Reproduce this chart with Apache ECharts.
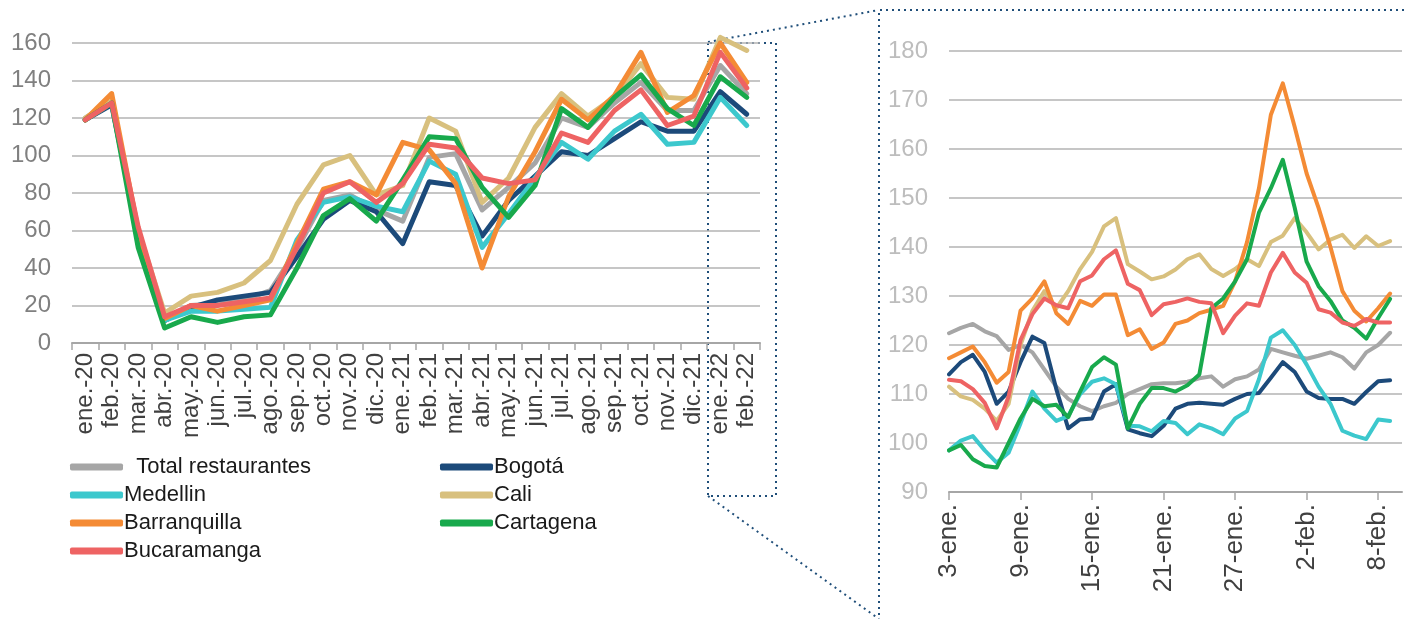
<!DOCTYPE html>
<html>
<head>
<meta charset="utf-8">
<script src="https://cdn.jsdelivr.net/npm/echarts@6/dist/echarts.min.js"></script>
<style>
  html, body { margin: 0; padding: 0; background: #fff; }
  #main { width: 1404px; height: 619px; }
</style>
</head>
<body>
<div id="main"></div>
<script>
// meses (panel izquierdo) y dias (panel derecho)
var meses = ['ene.-20','feb.-20','mar.-20','abr.-20','may.-20','jun.-20','jul.-20','ago.-20','sep.-20','oct.-20','nov.-20','dic.-20',
  'ene.-21','feb.-21','mar.-21','abr.-21','may.-21','jun.-21','jul.-21','ago.-21','sep.-21','oct.-21','nov.-21','dic.-21','ene.-22','feb.-22'];
var dias = ['3-ene.','4-ene.','5-ene.','6-ene.','7-ene.','8-ene.','9-ene.','10-ene.','11-ene.','12-ene.','13-ene.','14-ene.',
  '15-ene.','16-ene.','17-ene.','18-ene.','19-ene.','20-ene.','21-ene.','22-ene.','23-ene.','24-ene.','25-ene.','26-ene.',
  '27-ene.','28-ene.','29-ene.','30-ene.','31-ene.','1-feb.','2-feb.','3-feb.','4-feb.','5-feb.','6-feb.','7-feb.','8-feb.','9-feb.','10-feb.'];

// series mensuales
var totalMes = [120, 129, 58, 12, 20, 21, 23, 28, 50, 76, 79, 71, 65, 99, 101, 71, 83, 96, 120, 115, 128, 139, 124, 124, 148, 133];
var bogotaMes = [119, 127, 58, 12, 19, 23, 25, 27, 46, 66, 76, 70, 53, 86, 84, 57, 76, 89, 102, 100, 109, 118, 113, 113, 134, 122];
var medellinMes = [119, 128, 57, 12, 17, 17, 18, 19, 55, 75, 78, 73, 70, 97, 90, 51, 69, 88, 107, 98, 113, 122, 106, 107, 131, 116];
var caliMes = [120, 129, 60, 16, 25, 27, 32, 44, 74, 95, 100, 79, 84, 120, 113, 75, 88, 115, 133, 121, 131, 149, 131, 130, 163, 156];
var barranquillaMes = [119, 133, 60, 13, 20, 17, 20, 23, 53, 82, 86, 79, 107, 103, 85, 40, 78, 102, 130, 119, 132, 155, 123, 132, 160, 139];
var cartagenaMes = [119, 128, 51, 8, 14, 11, 14, 15, 40, 68, 77, 65, 87, 110, 109, 83, 67, 84, 125, 115, 131, 143, 125, 116, 142, 131];
var bucaramangaMes = [119, 128, 62, 14, 20, 20, 22, 24, 51, 80, 86, 75, 85, 106, 104, 88, 85, 87, 112, 107, 124, 135, 116, 121, 155, 136];

// series diarias
var totalDia = [122.4, 123.5, 124.3, 122.8, 121.8, 119, 120, 118.5, 115, 111.5, 109, 107.5, 106.5, 107.5, 108.2, 110, 111, 112, 112.2, 112.2,
  112.5, 113.2, 113.6, 111.5, 113, 113.6, 115, 119.2, 118.5, 117.8, 117.2, 117.8, 118.5, 117.5, 115.2, 118.5, 120, 122.5];
var bogotaDia = [114, 116.5, 118, 114.5, 108, 110.5, 116.5, 121.7, 120.4, 111, 103, 104.8, 105, 110.5, 112, 102.8, 102, 101.4, 103.5, 107,
  108, 108.2, 108, 107.8, 109, 110, 110.2, 113.3, 116.5, 114.5, 110.5, 109.2, 109, 109, 108, 110.4, 112.6, 112.8];
var medellinDia = [98.5, 100.5, 101.4, 98.5, 96, 98, 104, 110.5, 107, 104.5, 105.5, 110, 112.5, 113.2, 112, 103.5, 103.4, 102.4, 104.5, 104.1,
  101.8, 103.8, 103, 101.8, 105, 106.5, 113, 121.5, 123, 120, 116, 111.5, 108, 102.5, 101.5, 100.8, 104.8, 104.5];
var caliDia = [111.5, 109.5, 108.8, 107, 104.5, 108, 120, 127, 131, 127.5, 131, 135.5, 139, 144.2, 145.9, 136.5, 135, 133.4, 134, 135.4,
  137.5, 138.5, 135.5, 134.1, 135.5, 137.5, 136.1, 141, 142.3, 145.9, 143, 139.5, 141.5, 142.5, 139.8, 142.2, 140.2, 141.2];
var barranquillaDia = [117.3, 118.5, 119.7, 116.5, 112.3, 114.5, 127, 129.5, 133, 126.5, 124.3, 129, 128, 130.3, 130.3, 122, 123.2, 119.2, 120.5, 124.3,
  125, 126.5, 127.2, 128, 133, 141, 152, 167, 173.4, 164.5, 155, 148, 140, 131, 127, 124.8, 127.5, 130.5];
var cartagenaDia = [98.5, 99.6, 96.7, 95.3, 95, 100, 105, 109, 107.5, 107.8, 105.3, 110.5, 115.5, 117.5, 116, 103, 108, 111.2, 111.2, 110.5,
  111.8, 114, 127.5, 129.5, 133, 137.5, 147, 152, 157.8, 148, 137, 132, 129, 125, 123.5, 121.3, 125.5, 129.4];
var bucaramangaDia = [112.9, 112.6, 111, 108.2, 103, 109.5, 121, 126.3, 129.5, 128.1, 127.5, 133, 134.2, 137.5, 139.3, 132.5, 131.2, 126.1, 128.3, 128.8,
  129.5, 128.8, 128.5, 122.4, 126, 128.5, 128, 134.8, 138.8, 134.8, 132.7, 127.3, 126.6, 124.6, 123.9, 125.3, 124.6, 124.6];

var nombres = ['Total restaurantes', 'Bogotá', 'Medellin', 'Cali', 'Barranquilla', 'Cartagena', 'Bucaramanga'];
var colores = ['#a6a6a6', '#1c4a7a', '#3cc8cd', '#d8c07e', '#f48b35', '#18a94c', '#ee6363'];
var mensual = [totalMes, bogotaMes, medellinMes, caliMes, barranquillaMes, cartagenaMes, bucaramangaMes];
var diario = [totalDia, bogotaDia, medellinDia, caliDia, barranquillaDia, cartagenaDia, bucaramangaDia];

var fuente = "'Liberation Sans', Arial, sans-serif";
var punteado = { stroke: '#1f4e79', lineWidth: 2, lineDash: [2, 4], fill: null };

var series = [];
nombres.forEach(function (n, k) {
    series.push({
        name: n, type: 'line', xAxisIndex: 0, yAxisIndex: 0, data: mensual[k],
        symbol: 'none', clip: false, color: colores[k],
        lineStyle: { width: 5, join: 'round', cap: 'round' }
    });
});
nombres.forEach(function (n, k) {
    series.push({
        name: n, type: 'line', xAxisIndex: 1, yAxisIndex: 1, data: diario[k],
        symbol: 'none', color: colores[k],
        lineStyle: { width: 4, join: 'round', cap: 'round' }
    });
});

var leyenda = {
    top: 451, orient: 'vertical', itemGap: 6, itemWidth: 53, itemHeight: 7, icon: 'roundRect',
    textStyle: { fontSize: 22, color: '#1a1a1a', fontFamily: fuente, padding: [0, 0, 0, -4] }
};

var myChart = echarts.init(document.getElementById('main'));
myChart.setOption({
    animation: false,
    backgroundColor: '#ffffff',
    grid: [
        { left: 72, right: 644, top: 43, bottom: 276 },
        { left: 949, right: 2, top: 51, bottom: 127 }
    ],
    xAxis: [{
        gridIndex: 0, type: 'category', data: meses, boundaryGap: true,
        axisLine: { lineStyle: { color: '#a6a6a6', width: 2 } },
        axisTick: { show: true, interval: 0, length: 7, lineStyle: { color: '#a6a6a6', width: 1.5 } },
        axisLabel: { interval: 0, rotate: 90, margin: 10, fontSize: 24, color: '#404040', fontFamily: fuente }
    }, {
        gridIndex: 1, type: 'category', data: dias, boundaryGap: false,
        axisLine: { lineStyle: { color: '#a6a6a6', width: 2 } },
        axisTick: { show: true, interval: 5, length: 8, lineStyle: { color: '#a6a6a6', width: 1.5 } },
        axisLabel: { interval: 5, rotate: 90, margin: 12, fontSize: 26, color: '#404040', fontFamily: fuente }
    }],
    yAxis: [{
        gridIndex: 0, type: 'value', min: 0, max: 160, interval: 20,
        axisLine: { show: false }, axisTick: { show: false },
        axisLabel: { margin: 21, fontSize: 24, color: '#808080', fontFamily: fuente },
        splitLine: { lineStyle: { color: '#b3b3b3', width: 1.5 } }
    }, {
        gridIndex: 1, type: 'value', min: 90, max: 180, interval: 10,
        axisLine: { show: false }, axisTick: { show: false },
        axisLabel: { margin: 21, fontSize: 24, color: '#bdbdbd', fontFamily: fuente },
        splitLine: { lineStyle: { color: '#b3b3b3', width: 1.5 } }
    }],
    legend: [
        Object.assign({ left: 65, data: ['Total restaurantes', 'Medellin', 'Barranquilla', 'Bucaramanga'],
            formatter: function (n) { return n === 'Total restaurantes' ? '  ' + n : n; } }, leyenda),
        Object.assign({ left: 435, data: ['Bogotá', 'Cali', 'Cartagena'] }, leyenda)
    ],
    // recuadro del zoom y lineas de union
    graphic: [
        { type: 'polyline', shape: { points: [[708, 43], [708, 496], [776, 496], [776, 43], [708, 43]] }, style: punteado, silent: true },
        { type: 'line', shape: { x1: 708, y1: 42, x2: 879, y2: 10 }, style: punteado, silent: true },
        { type: 'polyline', shape: { points: [[1404, 10], [879, 10], [879, 619]] }, style: punteado, silent: true },
        { type: 'line', shape: { x1: 708, y1: 496, x2: 879, y2: 619 }, style: punteado, silent: true }
    ],
    series: series
});
</script>
</body>
</html>
